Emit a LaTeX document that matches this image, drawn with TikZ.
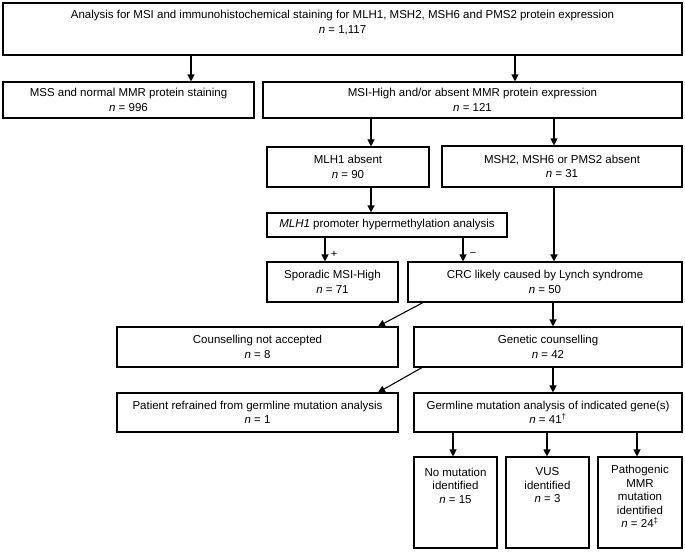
\documentclass[tikz,border=0pt]{standalone}
\usepackage{fontspec}
\setmainfont{Liberation Sans}
\usetikzlibrary{arrows.meta}
\begin{document}
\begin{tikzpicture}[x=1pt,y=-1pt,
  box/.style={draw, line width=1.1pt, rectangle, inner sep=0pt},
  txt/.style={align=center, inner sep=0pt, font=\fontsize{11.5}{14.5}\selectfont},
  txts/.style={align=center, inner sep=0pt, font=\fontsize{11.5}{13.5}\selectfont},
  arr/.style={line width=1.1pt, -{Triangle[length=7pt,width=7pt]}},
  sgn/.style={inner sep=0pt, font=\fontsize{11}{12}\selectfont}]
\useasboundingbox (0,0) rectangle (685,552);
% boxes
\node[box, minimum width=679, minimum height=52] (top) at (342.5,29) {};
\node[txt] (toptxt) at (342.5,22.5) {Analysis for MSI and immunohistochemical staining for MLH1, MSH2, MSH6 and PMS2 protein expression\\\textit{n} = 1,117};
\node[box, minimum width=251, minimum height=36, txt] (mss) at (128.5,100) {MSS and normal MMR protein staining\\\textit{n} = 996};
\node[box, minimum width=419, minimum height=36, txt] (msi) at (472.5,100) {MSI-High and/or absent MMR protein expression\\\textit{n} = 121};
\node[box, minimum width=162, minimum height=40, txt] (mlh1) at (348,167) {MLH1 absent\\\textit{n} = 90};
\node[box, minimum width=240, minimum height=41, txt] (msh2) at (562,166.5) {MSH2, MSH6 or PMS2 absent\\\textit{n} = 31};
\node[box, minimum width=240, minimum height=24, txt] (prom) at (387,225) {\textit{MLH1} promoter hypermethylation analysis};
\node[box, minimum width=131, minimum height=40, txt] (spor) at (332.5,282) {Sporadic MSI-High\\\textit{n} = 71};
\node[box, minimum width=274, minimum height=40, txt] (crc) at (545,282) {CRC likely caused by Lynch syndrome\\\textit{n} = 50};
\node[box, minimum width=281, minimum height=40, txt] (cna) at (257.5,347) {Counselling not accepted\\\textit{n} = 8};
\node[box, minimum width=268, minimum height=40, txt] (gc) at (548,347) {Genetic counselling\\\textit{n} = 42};
\node[box, minimum width=281, minimum height=39, txt] (pat) at (257.5,412.5) {Patient refrained from germline mutation analysis\\\textit{n} = 1};
\node[box, minimum width=268, minimum height=39, txt] (germ) at (548,412.5) {Germline mutation analysis of indicated gene(s)\\\textit{n} = 41\textsuperscript{†}};
\node[box, minimum width=83, minimum height=91] (b1) at (455.5,502.5) {};
\node[box, minimum width=83, minimum height=91] (b2) at (547.5,502.5) {};
\node[box, minimum width=84, minimum height=91] (b3) at (640,502.5) {};
\node[txts] (b1txt) at (455.5,485.5) {No mutation\\identified\\\textit{n} = 15};
\node[txts] (b2txt) at (547.5,485.5) {VUS\\identified\\\textit{n} = 3};
\node[txts] (b3txt) at (640,496.5) {Pathogenic\\MMR\\mutation\\identified\\\textit{n} = 24\textsuperscript{‡}};
% arrows
\draw[arr] (top.south -| 191,0) -- (mss.north -| 191,0);
\draw[arr] (top.south -| 515,0) -- (msi.north -| 515,0);
\draw[arr] (msi.south -| 371,0) -- (mlh1.north -| 371,0);
\draw[arr] (msi.south -| 554,0) -- (msh2.north -| 554,0);
\draw[arr] (mlh1.south -| 371,0) -- (prom.north -| 371,0);
\draw[arr] (prom.south -| 325,0) -- (spor.north -| 325,0);
\draw[arr] (prom.south -| 463,0) -- (crc.north -| 463,0);
\node[sgn] (plus) at (334,254) {+};
\node[sgn] (minus) at (473,254) {−};
\draw[arr, line width=1.5pt] (msh2.south -| 554,0) -- (crc.north -| 554,0);
\draw[arr] (crc.south -| 423,0) -- (cna.north -| 378,0);
\draw[arr] (crc.south -| 553,0) -- (gc.north -| 553,0);
\draw[arr] (gc.south -| 422,0) -- (pat.north -| 378,0);
\draw[arr] (gc.south -| 553,0) -- (germ.north -| 553,0);
\draw[arr] (germ.south -| 453,0) -- (b1.north -| 453,0);
\draw[arr] (germ.south -| 547,0) -- (b2.north -| 547,0);
\draw[arr] (germ.south -| 637,0) -- (b3.north -| 637,0);
\end{tikzpicture}
\end{document}
